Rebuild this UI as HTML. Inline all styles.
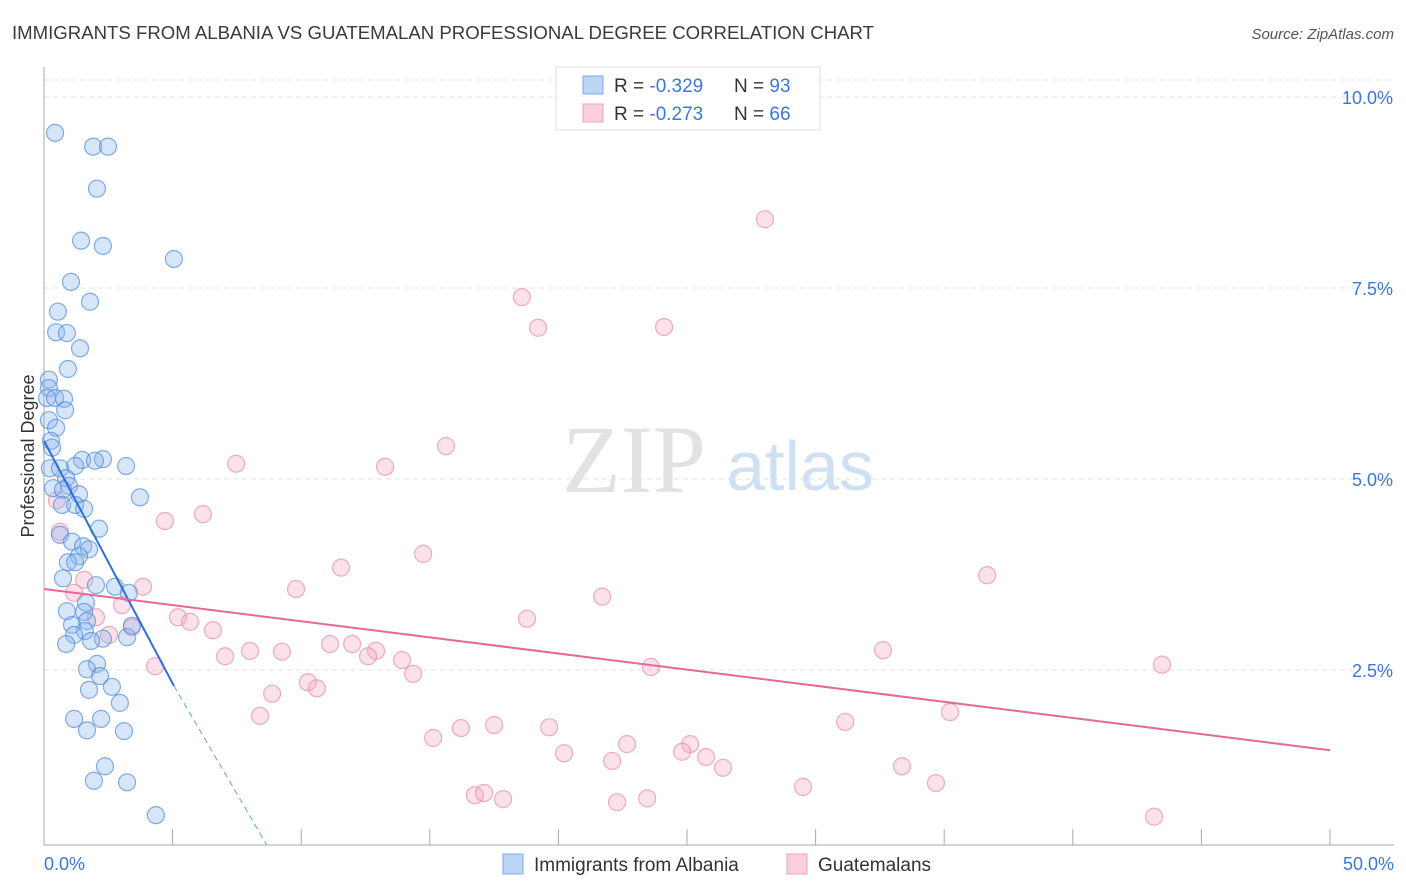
<!DOCTYPE html>
<html><head><meta charset="utf-8"><style>
body{margin:0;background:#fff;font-family:"Liberation Sans",sans-serif}
svg{display:block}
</style></head><body>
<svg id="c" width="1406" height="892">
<text x="12" y="39" font-size="18.6" fill="#3a3a3a">IMMIGRANTS FROM ALBANIA VS GUATEMALAN PROFESSIONAL DEGREE CORRELATION CHART</text>
<text x="1394" y="39" font-size="15" fill="#555" text-anchor="end" font-style="italic">Source: ZipAtlas.com</text>
<text x="634" y="492" font-size="96" fill="#e2e2e2" font-family="Liberation Serif" text-anchor="middle">ZIP</text>
<text x="800" y="490" font-size="70" fill="#cfe0f3" text-anchor="middle">atlas</text>
<g id="grid"></g><g id="axes"></g><g id="pts"></g><g id="lines"></g>
<text transform="translate(34,456) rotate(-90)" font-size="18" fill="#333" text-anchor="middle">Professional Degree</text>
<g>
<rect x="556" y="67" width="264" height="63" fill="#fff" stroke="#ddd"/>
<rect x="583" y="76" width="20" height="18" fill="#bcd5f5" stroke="#7aa8e8"/>
<text x="614" y="92" font-size="19" fill="#333">R = <tspan fill="#3a78d8">-0.329</tspan></text>
<text x="734" y="92" font-size="19" fill="#333">N = <tspan fill="#3a78d8">93</tspan></text>
<rect x="583" y="104" width="20" height="18" fill="#f9cfdc" stroke="#eca4bb"/>
<text x="614" y="120" font-size="19" fill="#333">R = <tspan fill="#3a78d8">-0.273</tspan></text>
<text x="734" y="120" font-size="19" fill="#333">N = <tspan fill="#3a78d8">66</tspan></text>
</g>
<g>
<rect x="503" y="854" width="20" height="20" fill="#bcd5f5" stroke="#7aa8e8"/>
<text x="534" y="871" font-size="19" fill="#333">Immigrants from Albania</text>
<rect x="787" y="854" width="20" height="20" fill="#f9cfdc" stroke="#eca4bb"/>
<text x="818" y="871" font-size="19" fill="#333">Guatemalans</text>
</g>
</svg>
<script>
const yTicks=[2.5,5,7.5,10];
const yTickLabels=["2.5%","5.0%","7.5%","10.0%"];
const xEndLabels=["0.0%","50.0%"];
const blueX=[0.43,1.91,2.49,2.06,1.44,2.29,5.05,1.05,1.79,0.54,0.47,0.89,1.40,0.93,0.19,0.19,0.12,0.43,0.78,0.82,0.19,0.47,0.27,0.31,1.48,2.29,1.98,3.19,1.21,0.23,0.62,0.86,0.35,0.97,0.74,1.36,3.73,0.70,1.21,1.56,2.14,0.62,1.09,1.52,1.75,1.36,0.93,1.21,0.74,2.02,2.76,3.30,1.63,0.89,1.56,1.67,1.09,1.59,1.17,2.29,1.83,3.23,0.86,3.42,2.06,1.67,2.18,1.75,2.64,2.95,1.17,2.22,1.67,3.11,2.37,1.94,3.23,4.35];
const blueY=[9.53,9.35,9.35,8.80,8.12,8.05,7.88,7.58,7.32,7.19,6.92,6.91,6.71,6.44,6.30,6.19,6.06,6.06,6.05,5.90,5.77,5.67,5.50,5.41,5.25,5.26,5.24,5.17,5.17,5.14,5.14,5.01,4.88,4.91,4.86,4.80,4.76,4.66,4.66,4.61,4.35,4.27,4.18,4.12,4.08,3.99,3.91,3.91,3.70,3.61,3.59,3.51,3.38,3.27,3.26,3.14,3.09,3.01,2.96,2.91,2.88,2.93,2.84,3.08,2.58,2.51,2.42,2.24,2.28,2.07,1.86,1.86,1.71,1.70,1.24,1.05,1.03,0.60];
const pinkX=[28.03,18.58,19.21,24.11,15.63,7.47,13.26,6.18,4.70,0.62,14.74,11.55,36.67,3.85,9.80,1.56,1.17,21.70,3.03,5.21,5.68,2.02,18.78,6.57,3.42,2.53,11.12,11.98,8.01,9.25,12.91,12.60,7.04,32.62,13.92,4.32,23.60,43.47,14.35,10.26,10.61,8.87,35.23,8.40,31.15,17.50,19.64,16.21,15.13,22.67,25.12,20.22,24.81,25.74,22.09,26.40,33.36,34.68,29.51,16.75,17.11,17.85,23.45,22.28,43.16,0.5];
const pinkY=[8.40,7.38,6.98,6.99,5.43,5.20,5.16,4.54,4.45,4.31,4.02,3.84,3.74,3.59,3.56,3.68,3.51,3.46,3.35,3.19,3.13,3.19,3.17,3.02,3.06,2.96,2.84,2.84,2.75,2.74,2.75,2.68,2.68,2.76,2.63,2.55,2.54,2.57,2.45,2.34,2.26,2.19,1.95,1.90,1.82,1.78,1.75,1.74,1.61,1.53,1.53,1.41,1.43,1.36,1.31,1.22,1.24,1.02,0.97,0.86,0.89,0.81,0.82,0.77,0.58,4.72];
const blueFit=[5.5,-0.635];
const pinkFit=[3.56,-0.0422];
const NS='http://www.w3.org/2000/svg';
const X=v=>44+v*1286/50, Y=v=>861-v*76.4;
function mk(p,t,a){const e=document.createElementNS(NS,t);for(const k in a)e.setAttribute(k,a[k]);document.getElementById(p).appendChild(e);return e;}
let e=mk('grid','line',{x1:44,x2:1394,y1:80,y2:80,stroke:'#e2e2e2','stroke-dasharray':'5,4'});


yTicks.forEach((t,i)=>{
 let g=mk('grid','line',{x1:44,x2:1394,y1:Y(t),y2:Y(t),stroke:'#e2e2e2','stroke-dasharray':'5,4'});
 
 
 let l=mk('grid','text',{x:1393,y:Y(t)+7,'font-size':18,fill:'#3a78d8','text-anchor':'end'});l.textContent=yTickLabels[i];
 
 
});
e=mk('axes','line',{x1:44,x2:44,y1:67,y2:845,stroke:'#aaa'});


e=mk('axes','line',{x1:44,x2:1394,y1:845,y2:845,stroke:'#aaa'});


for(let i=0;i<=10;i++){let t=mk('axes','line',{x1:X(i*5),x2:X(i*5),y1:829,y2:845,stroke:'#aaa'});
 
 }
[[0,'start',44],[50,'end',1394]].forEach((d,i)=>{let l=mk('axes','text',{x:d[2],y:870,'font-size':18,fill:'#3a78d8','text-anchor':d[1]});l.textContent=xEndLabels[i];
 
 });
function pts(xs,ys,f,s,n){xs.forEach((x,i)=>{let c=mk('pts','circle',{cx:X(x),cy:Y(ys[i]),r:8.5,fill:f,stroke:s,'stroke-width':1.2});
 
 });}
pts(pinkX,pinkY,'rgba(244,170,195,0.35)','rgba(230,140,170,0.7)','guatemalan-point');
pts(blueX,blueY,'rgba(140,180,235,0.35)','rgba(80,140,220,0.7)','albania-point');
const bEnd=5.05, bZero=-blueFit[0]/blueFit[1];
e=mk('lines','line',{x1:X(0),y1:Y(blueFit[0]),x2:X(bEnd),y2:Y(blueFit[0]+blueFit[1]*bEnd),stroke:'#2f6fd6','stroke-width':2});


e=mk('lines','line',{x1:X(bEnd),y1:Y(blueFit[0]+blueFit[1]*bEnd),x2:X(bZero),y2:Y(0)-16,stroke:'#6a9ee6','stroke-width':1,'stroke-dasharray':'6,4'});


e=mk('lines','line',{x1:X(0),y1:Y(pinkFit[0]),x2:X(50),y2:Y(pinkFit[0]+pinkFit[1]*50),stroke:'#e8679a','stroke-width':2});


</script>
</body></html>
